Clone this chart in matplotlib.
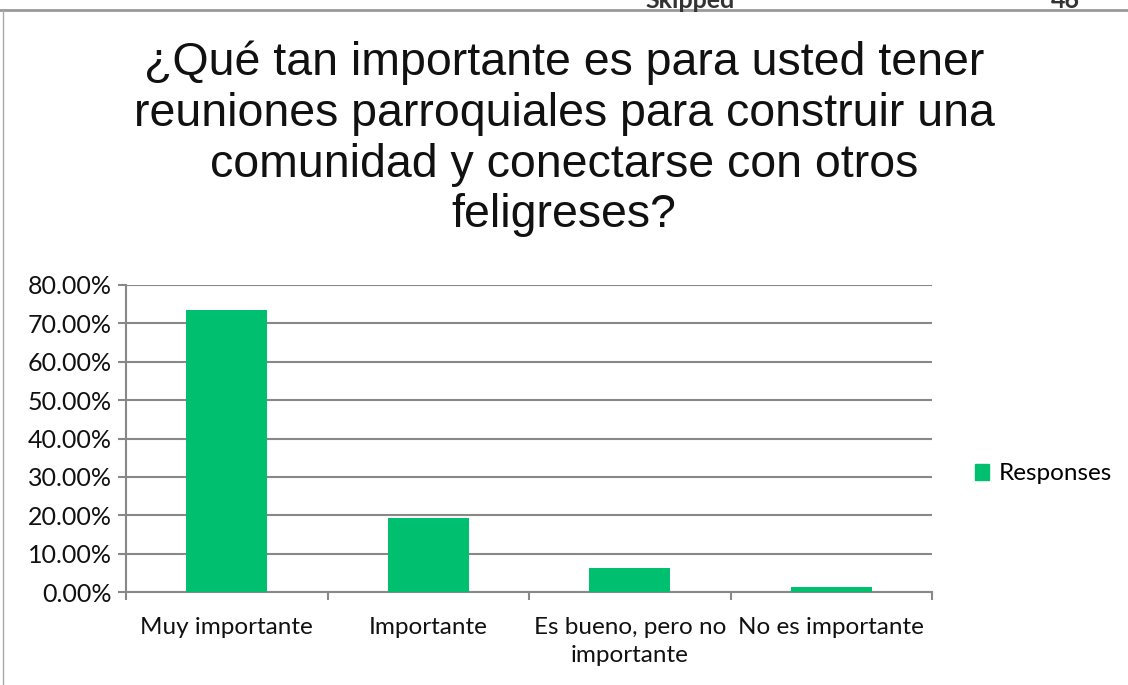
import matplotlib; matplotlib.use('Agg')
import matplotlib.pyplot as plt
import numpy as np
from matplotlib.ticker import FuncFormatter, FixedLocator
from matplotlib.patches import Patch
from matplotlib.lines import Line2D

categories = ['Muy importante', 'Importante', 'Es bueno, pero no\nimportante', 'No es importante']
responses = [73.4, 19.3, 6.3, 1.2]
yticks = [0, 10, 20, 30, 40, 50, 60, 70, 80]

green = '#00BF6F'
gray = '#888888'

fig = plt.figure(figsize=(11.28, 6.85), dpi=100)
W, H = 1128, 685
ax = fig.add_axes([126 / W, 1 - 592 / H, (932 - 126) / W, (592 - 285) / H])

x = np.arange(len(categories))
ax.bar(x, responses, width=0.4, color=green, zorder=3)

ax.set_xlim(-0.5, len(categories) - 0.5)
ax.set_ylim(0, 80)
ax.set_yticks(yticks)
ax.yaxis.set_major_formatter(FuncFormatter(lambda v, p: '%.2f%%' % v))
ax.grid(axis='y', color=gray, linewidth=1.5, zorder=0)

ax.set_xticks(x)
ax.set_xticklabels(categories, fontsize=17.5, family='Lato', linespacing=1.4)
ax.xaxis.set_minor_locator(FixedLocator(np.arange(-0.5, len(categories), 1)))
ax.tick_params(axis='x', which='major', length=0, pad=18, colors='#111111')
ax.tick_params(axis='x', which='minor', length=6, width=1.5, color=gray)
ax.tick_params(axis='y', length=6, width=1.5, color=gray, labelsize=18, labelcolor='#111111', pad=4)
for lab in ax.get_yticklabels():
    lab.set_family('Lato')

for s in ['top', 'right']:
    ax.spines[s].set_visible(False)
for s in ['left', 'bottom']:
    ax.spines[s].set_color(gray)
    ax.spines[s].set_linewidth(1.5)

fig.text(564 / W, 1 - 139 / H,
         '¿Qué tan importante es para usted tener\nreuniones parroquiales para construir una\ncomunidad y conectarse con otros\nfeligreses?',
         ha='center', va='center', fontsize=33.5, family='Liberation Sans', linespacing=1.2, color='#111111')

leg = fig.legend(handles=[Patch(color=green, label='Responses')], loc='center left',
                 bbox_to_anchor=(953 / W, 1 - 474 / H), frameon=False,
                 handlelength=0.6, handleheight=0.6, handletextpad=0.4,
                 prop={'family': 'Lato', 'size': 17.5})

# clipped header of the page above
fig.add_artist(Line2D([0, 1], [1 - 10 / H, 1 - 10 / H], color='#999999', linewidth=2))
fig.add_artist(Line2D([3 / W, 3 / W], [0, 1 - 10 / H], color='#aaaaaa', linewidth=1))
fig.text(690 / W, 1 - 1 / H, 'Skipped', ha='center', va='center', fontsize=18,
         fontweight='bold', family='Lato', color='#333333')
fig.text(1065 / W, 1 - 1 / H, '46', ha='center', va='center', fontsize=18,
         fontweight='bold', family='Lato', color='#333333')

fig.savefig('out.png', dpi=100)
